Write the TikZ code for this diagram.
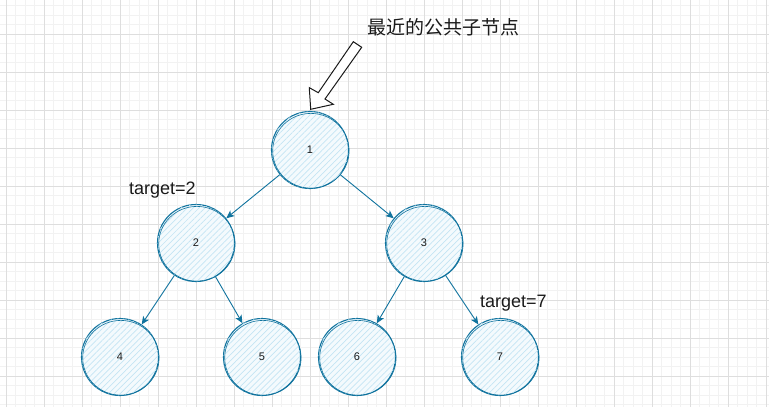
\documentclass[tikz,border=0pt]{standalone}
\usepackage{fontspec}
\setmainfont{Liberation Sans}
\newfontfamily\cjk{Noto Sans CJK SC}
\usepackage{tikz}
\usetikzlibrary{arrows.meta,positioning,calc,patterns.meta}
\definecolor{Ink}{HTML}{1A1A1A}
\definecolor{Stroke}{HTML}{10739E}
\definecolor{Hatch}{HTML}{C4E5F4}
\definecolor{NodeFill}{HTML}{F4FAFD}
\definecolor{GridMinor}{HTML}{F2F2F2}
\definecolor{GridMajor}{HTML}{DEDEDE}
\tikzset{
  treenode/.style={circle,draw=Stroke,line width=1.1pt,fill=NodeFill,minimum size=77pt,inner sep=0pt,font=\fontsize{11}{12}\selectfont,text=Ink,
    postaction={pattern={Lines[angle=45,distance=4.2pt,line width=0.7pt]},pattern color=Hatch}},
  sketchline/.style={draw=Stroke,line width=0.6pt},
  edge/.style={-{Stealth[length=8pt,width=7pt,inset=2pt]},draw=Stroke,line width=0.9pt},
  gridminor/.style={draw=GridMinor,line width=0.8pt},
  gridmajor/.style={draw=GridMajor,line width=1pt},
  note/.style={font=\fontsize{18}{20}\selectfont,text=Ink,inner sep=0pt},
  callout/.style={draw=Ink,fill=white,line width=1pt,line join=miter}
}
\begin{document}
\begin{tikzpicture}[x=1pt,y=-1pt]
  \useasboundingbox (0,0) rectangle (769,407);
  \fill[white] (0,0) rectangle (769,407);
  \foreach \k in {0,...,80} \draw[gridminor] ({6.3+\k*9.5},0)--({6.3+\k*9.5},407);
  \foreach \k in {1,...,43} \draw[gridminor] (0,{-3.7+\k*9.5})--(769,{-3.7+\k*9.5});
  \foreach \k in {0,...,20} \draw[gridmajor] ({6.3+\k*38},0)--({6.3+\k*38},407);
  \foreach \k in {1,...,10} \draw[gridmajor] (0,{-3.7+\k*38})--(769,{-3.7+\k*38});

  \node[treenode] (n1) at (310,150) {1};
  \node[treenode] (n2) at (196,243) {2};
  \node[treenode] (n3) at (424,243) {3};
  \node[treenode] (n4) at (120,357) {4};
  \node[treenode] (n5) at (262,357) {5};
  \node[treenode] (n6) at (357,357) {6};
  \node[treenode] (n7) at (500,357) {7};
  \foreach \n in {n1,n2,n3,n4,n5,n6,n7}
    \draw[sketchline] ([shift={(0.9,0.8)}]\n.center) circle[x radius=38.2,y radius=37.4];

  \draw[edge] (n1) -- (n2);
  \draw[edge] (n1) -- (n3);
  \draw[edge] (n2) -- (n4);
  \draw[edge] (n2) -- (n5);
  \draw[edge] (n3) -- (n6);
  \draw[edge] (n3) -- (n7);

  \node[note,anchor=base west] (t2) at (129,194) {target=2};
  \node[note,anchor=base west] (t7) at (480,307) {target=7};
  \node[note,anchor=west,font=\fontsize{19}{21}\selectfont] (lca) at (367,27) {\cjk 最近的公共子节点};

  \draw[callout] (353.3,41.7) -- (361.7,47.3) -- (325,99) -- (333.3,104.3)
    -- (310.7,109.3) -- (309.3,87.7) -- (318.3,92.7) -- cycle;
\end{tikzpicture}
\end{document}
